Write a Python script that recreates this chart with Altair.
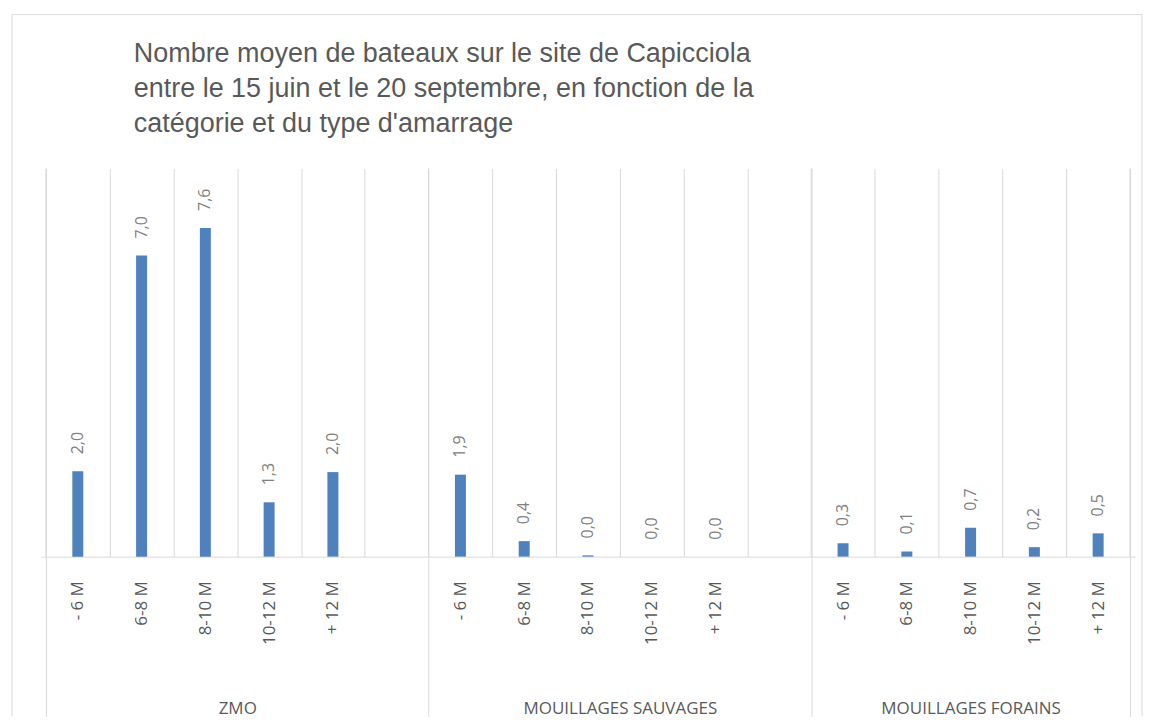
import json
import altair as alt
import pandas as pd

# ---- data ----
groups = ["ZMO", "MOUILLAGES SAUVAGES", "MOUILLAGES FORAINS"]
group_slots = [6, 6, 5]          # category slots per group (incl. the empty one)
categories = ["- 6 M", "6-8 M", "8-10 M", "10-12 M", "+ 12 M"]
zmo = [1.98, 6.98, 7.62, 1.26, 1.96]
sauvages = [1.90, 0.36, 0.03, 0.0, 0.0]
forains = [0.31, 0.12, 0.67, 0.22, 0.54]
series = [zmo, sauvages, forains]

title_lines = [
    "Nombre moyen de bateaux sur le site de Capicciola",
    "entre le 15 juin et le 20 septembre, en fonction de la",
    "catégorie et du type d'amarrage",
]

# ---- tables built from the lists ----
rows, slot_labels, centers, bounds = [], [], [], [0]
offset = 0
for g, n, vals in zip(groups, group_slots, series):
    for i, (c, v) in enumerate(zip(categories, vals)):
        rows.append({"group": g, "cat": c, "value": v, "slot": offset + i + 0.5})
    slot_labels += categories + [""] * (n - len(categories))
    centers.append(offset + n / 2)
    offset += n
    bounds.append(offset)
total = offset

df = pd.DataFrame(rows)
gdf = pd.DataFrame({"group": groups, "center": centers})
bdf = pd.DataFrame({"b": bounds})

W, H = 1096, 389
GRID = "#d9d9d9"
TXT = "#595959"
LFONT = "Open Sans"

xscale = alt.Scale(domain=[0, total], nice=False, zero=False)
yscale = alt.Scale(domain=[0, 9], nice=False)

cat_expr = json.dumps(slot_labels) + "[floor(datum.value)]"
grp_expr = " : ".join(
    f"datum.value == {c} ? {json.dumps(g)}" for c, g in zip(centers, groups)
) + " : ''"

bars = alt.Chart(df).mark_bar(size=11, color="#4f81bd").encode(
    x=alt.X("slot:Q", scale=xscale, axis=alt.Axis(
        orient="bottom", values=[r["slot"] for r in rows], labelExpr=cat_expr,
        labelAngle=270, labelAlign="right", labelBaseline="middle",
        labelPadding=24, ticks=False, tickSize=0, grid=False,
        domain=True, domainColor=GRID, domainWidth=1,
        labelFont=LFONT, labelFontSize=17, labelColor=TXT,
        labelFlush=False, labelOverlap=False, labelLimit=300, title=None)),
    y=alt.Y("value:Q", scale=yscale, axis=None),
)

value_labels = alt.Chart(df).transform_calculate(
    lbl="replace(format(datum.value, '.1f'), '.', ',')"
).mark_text(angle=270, align="left", baseline="middle", dx=17,
            font=LFONT, fontSize=16, color="#808080").encode(
    x=alt.X("slot:Q", scale=xscale, axis=alt.Axis(
        orient="bottom", values=list(range(total + 1)), grid=True,
        gridColor=GRID, gridWidth=1, labels=False, ticks=False,
        domain=False, title=None)),
    y=alt.Y("value:Q", scale=yscale, axis=None),
    text="lbl:N",
)

separators = alt.Chart(bdf).mark_rule(color=GRID).encode(
    x=alt.X("b:Q", scale=xscale, axis=alt.Axis(
        orient="bottom", values=bounds, ticks=True, tickSize=160,
        tickColor=GRID, tickWidth=1, labels=False, domain=False,
        grid=False, title=None)),
)

group_labels = alt.Chart(gdf).mark_point(opacity=0).encode(
    x=alt.X("center:Q", scale=xscale, axis=alt.Axis(
        orient="bottom", values=centers, labelExpr=grp_expr, ticks=False,
        tickSize=0, domain=False, grid=False, labelPadding=144,
        labelFont=LFONT, labelFontSize=17, labelColor=TXT,
        labelFlush=False, labelOverlap=False, labelLimit=600, title=None)),
)

frame_data = alt.Data(values=[{}])
frame_left = alt.Chart(frame_data).mark_rule(color=GRID).encode(
    x=alt.value(-29), y=alt.value(-154), y2=alt.value(H + 160))
frame_right = alt.Chart(frame_data).mark_rule(color=GRID).encode(
    x=alt.value(W + 7), y=alt.value(-154), y2=alt.value(H + 160))
frame_top = alt.Chart(frame_data).mark_rule(color=GRID).encode(
    x=alt.value(-29), x2=alt.value(W + 7), y=alt.value(-154))

chart = alt.layer(
    frame_left, frame_right, frame_top, separators, value_labels, bars, group_labels
).resolve_axis(x="independent").properties(
    width=W, height=H,
    padding={"left": 3, "top": 5, "right": 0, "bottom": 0},
    title=alt.TitleParams(
        text=title_lines, anchor="start", frame="group", orient="top",
        font="Liberation Sans", fontSize=27, fontWeight="normal",
        color=TXT, lineHeight=35, baseline="top", dx=93, dy=124, offset=0),
).configure_view(stroke=None)

chart.save("out.html", embed_options={"renderer": "svg", "actions": False})
